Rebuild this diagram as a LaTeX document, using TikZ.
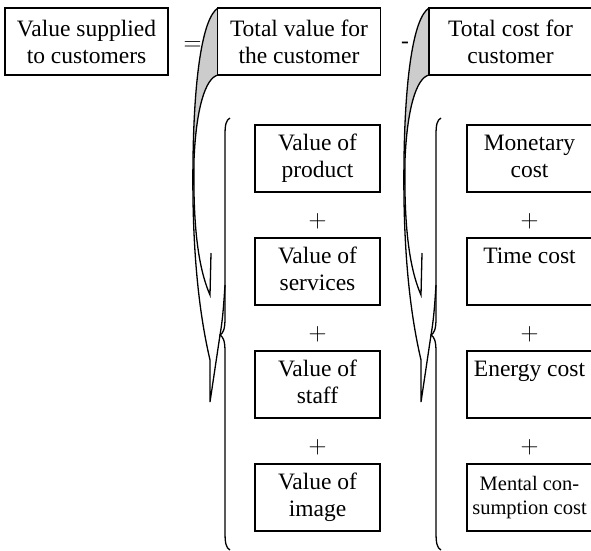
\documentclass[tikz,border=0pt]{standalone}
\usepackage{fontspec}
\setmainfont{Liberation Serif}
\usetikzlibrary{positioning,calc}

\begin{document}
\begin{tikzpicture}[x=1pt,y=-1pt,node distance=113pt,line width=1.1pt,
    bigbox/.style={draw,minimum width=163pt,minimum height=67pt,inner sep=1pt,align=center,font=\fontsize{23.5}{27}\selectfont},
    smallbox/.style={draw,minimum width=125pt,minimum height=67pt,inner sep=1pt,align=center,font=\fontsize{23.5}{27}\selectfont},
    sign/.style={inner sep=0pt,font=\fontsize{23.5}{27}\selectfont},
    ribbon/.style={line width=1.3pt}]
    \useasboundingbox (0,0) rectangle (591,550);

    \foreach \dx in {0,211}{
        \begin{scope}[xshift=\dx]
            \fill[gray!40] (218,8) .. controls (202,18) and (194,80) .. (193,160) -- (194,160) .. controls (196,110) and (205,78) .. (218,75) -- cycle;
            \draw[ribbon] (218,8) .. controls (202,18) and (194,80) .. (193,160) .. controls (192,230) and (196,300) .. (210,360) -- (210,402) -- (220,335) .. controls (223,318) and (224,300) .. (225,285);
            \draw[ribbon] (218,75) .. controls (205,78) and (196,110) .. (194,160) .. controls (193,220) and (197,265) .. (210,295) -- (211,253);
            \draw[ribbon] (230,118) .. controls (226,120) and (225,125) .. (225,135) -- (225,318) .. controls (225,330) and (223,333) .. (220,335) .. controls (223,337) and (225,340) .. (225,352) -- (225,532) .. controls (225,543) and (226,548) .. (230,550);
        \end{scope}
    }

    \node [bigbox] (supplied) at (86.5,41.5) {Value supplied\\to customers};
    \node [bigbox] (totval)   at (299,41.5)  {Total value for\\the customer};
    \node [bigbox] (totcost)  at (510.5,41.5) {Total cost for\\customer};
    \node [sign]   (eq)       at (192.5,46)  {$=$};
    \node [sign]   (minus)    at (405,45)    {-};

    \node [smallbox] (prod)   at (317.5,158.5) {\strut Value of\\product\strut};
    \node [smallbox] (serv)   [below of=prod]  {\strut Value of\\services\strut};
    \node [smallbox] (staff)  [below of=serv]  {\strut Value of\\staff\strut};
    \node [smallbox] (image)  [below of=staff] {\strut Value of\\image\strut};

    \node [smallbox] (money)  at (529.5,158.5)  {\strut Monetary\\cost\strut};
    \node [smallbox] (time)   [below of=money]  {\strut Time cost\\\strut};
    \node [smallbox] (energy) [below of=time]   {\strut Energy cost\\\strut};
    \node [smallbox,font=\fontsize{20.5}{23.5}\selectfont] (mental) [below of=energy] {Mental con-\\sumption cost};

    \foreach \a/\b in {prod/serv,serv/staff,staff/image,money/time,time/energy,energy/mental}
        \node [sign] (plus-\a) at ($(\a)!0.5!(\b)+(0,6)$) {$+$};
\end{tikzpicture}
\end{document}
